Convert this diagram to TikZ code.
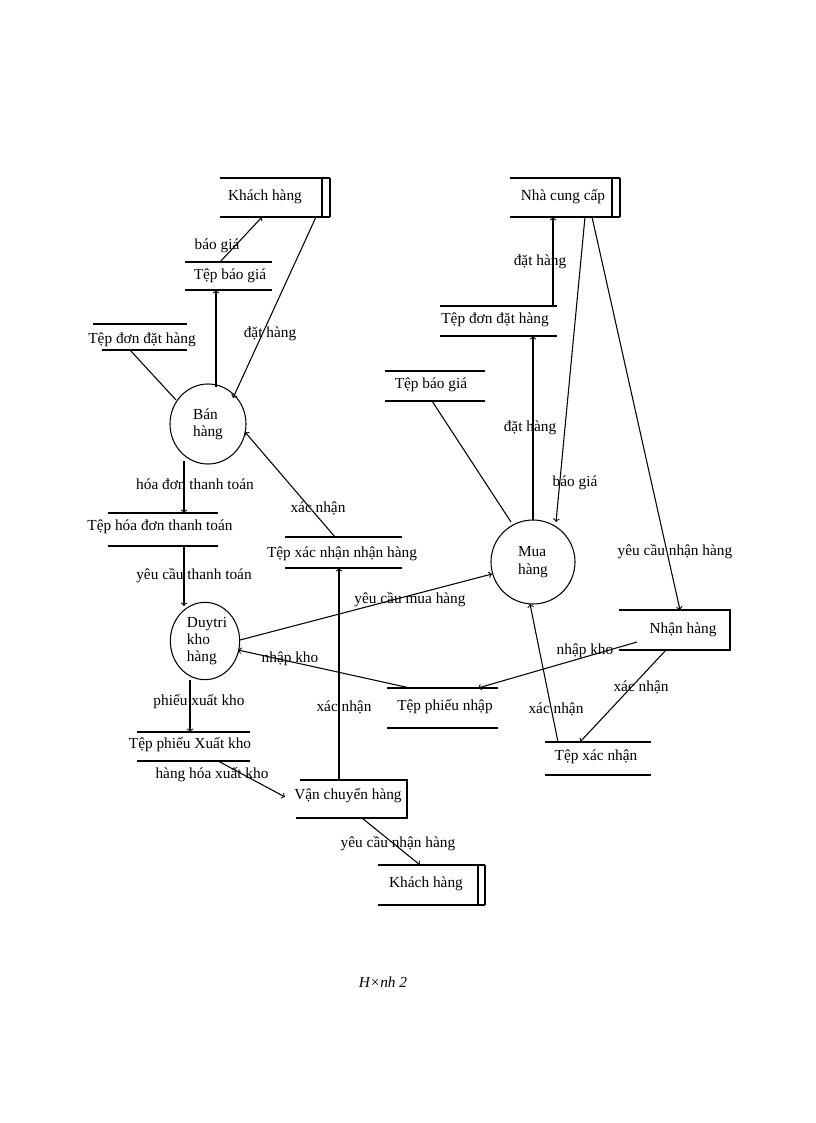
\documentclass[tikz,border=0pt]{standalone}
\usepackage{fontspec}
\setmainfont{Liberation Serif}
\usetikzlibrary{shapes.geometric}
\begin{document}
\begin{tikzpicture}[x=0.75pt,y=-0.75pt,
  every node/.style={font=\fontsize{11.5}{13}\selectfont},
  lbl/.style={inner sep=1pt},
  arr/.style={->,>=to,thick},
  ln/.style={thick},
  proc/.style={draw,thick,ellipse,inner sep=0pt}]
\useasboundingbox (0,0) rectangle (816,1123);
% --- Left part
\node (kh1) at (265,197) {Khách hàng};
\draw[ln] (220,178) -- (330,178) (220,217) -- (330,217) (322,178) -- (322,217) (330,178) -- (330,217);
\node (tbg1) at (230,276) {Tệp báo giá};
\draw[ln] (185,262) -- (272,262) (185,290) -- (272,290);
\node (tdd1) at (142,340) {Tệp đơn đặt hàng};
\draw[ln] (93,324) -- (187,324) (102,350) -- (187,350);
\node[proc,minimum width=57pt,minimum height=60pt] (ban) at (208,424) {};
\node[align=left] at (208,424) {Bán\\hàng};
\node (thd) at (160,527) {Tệp hóa đơn thanh toán};
\draw[ln] (108,513) -- (218,513) (108,546) -- (218,546);
\node[proc,minimum width=52pt,minimum height=58pt] (duy) at (205,641) {};
\node[align=left] at (207,641) {Duytri\\kho\\hàng};
\node (tpx) at (190,745) {Tệp phiếu Xuất kho};
\draw[ln] (137,732) -- (250,732) (137,761) -- (250,761);
\node (vc) at (348,796) {Vận chuyển hàng};
\draw[ln] (300,780) -- (407,780) -- (407,818) -- (296,818);
\node (txn1) at (342,554) {Tệp xác nhận nhận hàng};
\draw[ln] (285,537) -- (402,537) (285,568) -- (402,568);
\node (kh2) at (426,884) {Khách hàng};
\draw[ln] (378,865) -- (485,865) (378,905) -- (485,905) (478,865) -- (478,905) (485,865) -- (485,905);
% --- Right part
\node (ncc) at (563,197) {Nhà cung cấp};
\draw[ln] (510,178) -- (620,178) (510,217) -- (620,217) (612,178) -- (612,217) (620,178) -- (620,217);
\node (tdd2) at (495,320) {Tệp đơn đặt hàng};
\draw[ln] (440,306) -- (557,306) (440,336) -- (557,336);
\node (tbg2) at (431,385) {Tệp báo giá};
\draw[ln] (385,371) -- (485,371) (385,401) -- (485,401);
\node[proc,minimum width=63pt,minimum height=63pt] (mua) at (533,562) {};
\node[align=left] at (533,562) {Mua\\hàng};
\node (nh) at (683,630) {Nhận hàng};
\draw[ln] (619,610) -- (730,610) -- (730,650) -- (619,650);
\node (tpn) at (445,707) {Tệp phiếu nhập};
\draw[ln] (387,688) -- (498,688) (387,728) -- (498,728);
\node (txn2) at (596,757) {Tệp xác nhận};
\draw[ln] (545,742) -- (651,742) (545,775) -- (651,775);
% coordinates for connector ends
\coordinate (a1) at (130,350); \coordinate (a2) at (176,400);
\coordinate (b1) at (216,387); \coordinate (b2) at (216,290);
\coordinate (c1) at (220,262); \coordinate (c2) at (262,217);
\coordinate (d1) at (316,217); \coordinate (d2) at (233,398);
\coordinate (e1) at (184,461); \coordinate (e2) at (184,513);
\coordinate (f1) at (184,546); \coordinate (f2) at (184,606);
\coordinate (g1) at (190,680); \coordinate (g2) at (190,732);
\coordinate (h1) at (218,761); \coordinate (h2) at (285,797);
\coordinate (i1) at (339,780); \coordinate (i2) at (339,568);
\coordinate (j1) at (335,537); \coordinate (j2) at (245,432);
\coordinate (k1) at (362,818); \coordinate (k2) at (420,865);
\coordinate (l1) at (240,640); \coordinate (l2) at (492,574);
\coordinate (m1) at (410,688); \coordinate (m2) at (238,650);
\coordinate (n1) at (553,306); \coordinate (n2) at (553,217);
\coordinate (o1) at (533,520); \coordinate (o2) at (533,336);
\coordinate (p1) at (432,401); \coordinate (p2) at (511,522);
\coordinate (q1) at (585,217); \coordinate (q2) at (556,522);
\coordinate (r1) at (592,217); \coordinate (r2) at (680,610);
\coordinate (s1) at (637,642); \coordinate (s2) at (478,688);
\coordinate (t1) at (666,650); \coordinate (t2) at (580,742);
\coordinate (u1) at (558,742); \coordinate (u2) at (530,604);
\draw[ln] (a1) -- (a2);
\draw[arr] (b1) -- (b2);
\draw[arr] (c1) -- (c2);
\draw[arr] (d1) -- (d2);
\draw[arr] (e1) -- (e2);
\draw[arr] (f1) -- (f2);
\draw[arr] (g1) -- (g2);
\draw[arr] (h1) -- (h2);
\draw[arr] (i1) -- (i2);
\draw[arr] (j1) -- (j2);
\draw[arr] (k1) -- (k2);
\draw[arr] (l1) -- (l2);
\draw[arr] (m1) -- (m2);
\draw[arr] (n1) -- (n2);
\draw[arr] (o1) -- (o2);
\draw[ln] (p1) -- (p2);
\draw[arr] (q1) -- (q2);
\draw[arr] (r1) -- (r2);
\draw[arr] (s1) -- (s2);
\draw[arr] (t1) -- (t2);
\draw[arr] (u1) -- (u2);
% labels
\node[lbl] at (217,246) {báo giá};
\node[lbl] at (270,334) {đặt hàng};
\node[lbl] at (195,484) {hóa đơn thanh toán};
\node[lbl] at (194,576) {yêu cầu thanh toán};
\node[lbl] at (199,702) {phiếu xuất kho};
\node[lbl] at (212,775) {hàng hóa xuất kho};
\node[lbl] at (344,707) {xác nhận};
\node[lbl] at (318,508) {xác nhận};
\node[lbl] at (398,844) {yêu cầu nhận hàng};
\node[lbl] at (410,600) {yêu cầu mua hàng};
\node[lbl] at (290,659) {nhập kho};
\node[lbl] at (540,262) {đặt hàng};
\node[lbl] at (530,428) {đặt hàng};
\node[lbl] at (575,483) {báo giá};
\node[lbl] at (675,552) {yêu cầu nhận hàng};
\node[lbl] at (585,651) {nhập kho};
\node[lbl] at (641,687) {xác nhận};
\node[lbl] at (556,709) {xác nhận};
\node[font=\itshape\fontsize{11.5}{13}\selectfont] (cap) at (383,982) {H×nh 2};
\end{tikzpicture}
\end{document}
